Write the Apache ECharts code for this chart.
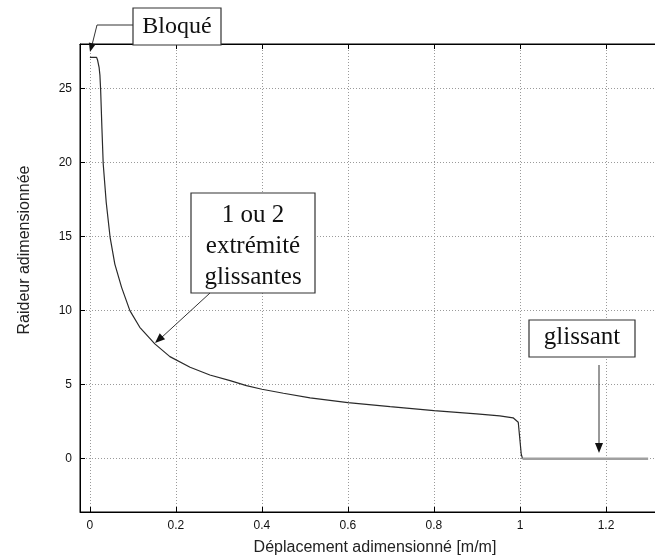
<!DOCTYPE html>
<html>
<head>
<meta charset="utf-8">
<script src="https://cdn.jsdelivr.net/npm/echarts@6/dist/echarts.min.js"></script>
<style>
html,body{margin:0;padding:0;background:#fff;overflow:hidden;width:655px;height:560px;}
#chart{width:692px;height:560px;}
</style>
</head>
<body>
<div id="chart"></div>
<script>
// ---- data ----
var curveX = [0, 0.0156, 0.018, 0.0215, 0.0233, 0.025, 0.028, 0.031, 0.038, 0.047, 0.058, 0.0737, 0.093, 0.116, 0.151, 0.186, 0.233, 0.279, 0.326, 0.364, 0.4, 0.45, 0.512, 0.6, 0.698, 0.8, 0.899, 0.953, 0.984, 0.996, 1.0, 1.003, 1.006];
var curveY = [27.1, 27.1, 26.9, 26.4, 25.9, 24.9, 22.3, 19.9, 17.3, 14.95, 13.14, 11.57, 10.0, 8.87, 7.75, 6.89, 6.17, 5.65, 5.27, 4.93, 4.69, 4.42, 4.11, 3.79, 3.52, 3.25, 3.03, 2.89, 2.76, 2.46, 1.23, 0.3, 0];
var slipX = [1.006, 1.298];
var slipY = [0, 0];
var xTicks = [0, 0.2, 0.4, 0.6, 0.8, 1, 1.2];
var yTicks = [0, 5, 10, 15, 20, 25];
var xLabel = 'Déplacement adimensionné [m/m]';
var yLabel = 'Raideur adimensionnée';
var noteBlocked = 'Bloqué';
var noteEnds = ['1 ou 2', 'extrémité', 'glissantes'];
var noteSlip = 'glissant';

function pairs(xs, ys) { return xs.map(function (x, i) { return [x, ys[i]]; }); }

function arrowHead(tip, from, len, half) {
  var dx = tip[0] - from[0], dy = tip[1] - from[1];
  var d = Math.sqrt(dx * dx + dy * dy); dx /= d; dy /= d;
  var bx = tip[0] - dx * len, by = tip[1] - dy * len;
  return [[tip[0], tip[1]], [bx - dy * half, by + dx * half], [bx + dy * half, by - dx * half]];
}

var chart = echarts.init(document.getElementById('chart'));
var serif = '"Liberation Serif", "DejaVu Serif", serif';
var sans = '"Liberation Sans", Arial, sans-serif';
var gridLine = { show: true, lineStyle: { color: '#9a9a9a', type: [1, 2], width: 1 } };
var stroke = '#333';

var graphics = [];
// Bloqué box
graphics.push({ type: 'rect', shape: { x: 133, y: 8, width: 88, height: 37 }, style: { fill: '#fff', stroke: stroke, lineWidth: 1.2 }, z: 100 });
graphics.push({ type: 'text', x: 177, y: 27, style: { text: noteBlocked, font: '24px ' + serif, fill: '#111', align: 'center', verticalAlign: 'middle' }, z: 101 });
graphics.push({ type: 'polyline', shape: { points: [[133, 25], [97, 25], [92, 45]] }, style: { stroke: stroke, lineWidth: 1, fill: null }, z: 100 });
graphics.push({ type: 'polygon', shape: { points: arrowHead([90, 52], [97, 25], 9, 3.5) }, style: { fill: '#111' }, z: 100 });
// 1 ou 2 box
graphics.push({ type: 'rect', shape: { x: 191, y: 193, width: 124, height: 100 }, style: { fill: '#fff', stroke: stroke, lineWidth: 1.2 }, z: 100 });
noteEnds.forEach(function (t, i) {
  graphics.push({ type: 'text', x: 253, y: 215 + i * 31, style: { text: t, font: '25px ' + serif, fill: '#111', align: 'center', verticalAlign: 'middle' }, z: 101 });
});
graphics.push({ type: 'line', shape: { x1: 210, y1: 293, x2: 161, y2: 338 }, style: { stroke: stroke, lineWidth: 1 }, z: 100 });
graphics.push({ type: 'polygon', shape: { points: arrowHead([155, 343], [210, 293], 10, 4) }, style: { fill: '#111' }, z: 100 });
// glissant box
graphics.push({ type: 'rect', shape: { x: 529, y: 320, width: 106, height: 37 }, style: { fill: '#fff', stroke: stroke, lineWidth: 1.2 }, z: 100 });
graphics.push({ type: 'text', x: 582, y: 337, style: { text: noteSlip, font: '25px ' + serif, fill: '#111', align: 'center', verticalAlign: 'middle' }, z: 101 });
graphics.push({ type: 'line', shape: { x1: 599, y1: 365, x2: 599, y2: 444 }, style: { stroke: stroke, lineWidth: 1 }, z: 100 });
graphics.push({ type: 'polygon', shape: { points: arrowHead([599, 453], [599, 365], 10, 4) }, style: { fill: '#111' }, z: 100 });
// axis names
graphics.push({ type: 'text', x: 25, y: 250, rotation: Math.PI / 2, style: { text: yLabel, font: '16px ' + sans, fill: '#222', align: 'center', verticalAlign: 'middle' }, z: 50 });
graphics.push({ type: 'text', x: 375, y: 548, style: { text: xLabel, font: '16px ' + sans, fill: '#222', align: 'center', verticalAlign: 'middle' }, z: 50 });

var option = {
  animation: false,
  backgroundColor: '#fff',
  grid: { left: 80, right: 0, top: 44, bottom: 48, show: true, borderColor: '#000', borderWidth: 1, containLabel: false },
  xAxis: [{
    type: 'value', min: -0.023, max: 1.4, position: 'bottom',
    axisLine: { show: true, onZero: false, lineStyle: { color: '#000', width: 1 } },
    axisTick: { show: true, inside: true, length: 5, customValues: xTicks, lineStyle: { color: '#000' } },
    axisLabel: { show: true, customValues: xTicks, color: '#111', fontSize: 12, fontFamily: sans, margin: 8 },
    splitLine: gridLine
  }, {
    type: 'value', min: -0.023, max: 1.4, position: 'top',
    axisLine: { show: true, onZero: false, lineStyle: { color: '#000', width: 1 } },
    axisTick: { show: true, inside: true, length: 5, customValues: xTicks, lineStyle: { color: '#000' } },
    axisLabel: { show: false },
    splitLine: { show: false }
  }],
  yAxis: {
    type: 'value', min: -3.6, max: 28,
    axisLine: { show: true, onZero: false, lineStyle: { color: '#000', width: 1 } },
    axisTick: { show: true, inside: true, length: 5, customValues: yTicks, lineStyle: { color: '#000' } },
    axisLabel: { show: true, customValues: yTicks, color: '#111', fontSize: 12, fontFamily: sans, margin: 8 },
    splitLine: gridLine
  },
  series: [{
    type: 'line', xAxisIndex: 0, data: pairs(curveX, curveY), showSymbol: false,
    lineStyle: { color: '#2a2a2a', width: 1.2 }, z: 5
  }, {
    type: 'line', xAxisIndex: 0, data: pairs(slipX, slipY), showSymbol: false,
    lineStyle: { color: '#a0a0a0', width: 2.5 }, z: 5
  }],
  graphic: graphics
};
chart.setOption(option);
</script>
</body>
</html>
